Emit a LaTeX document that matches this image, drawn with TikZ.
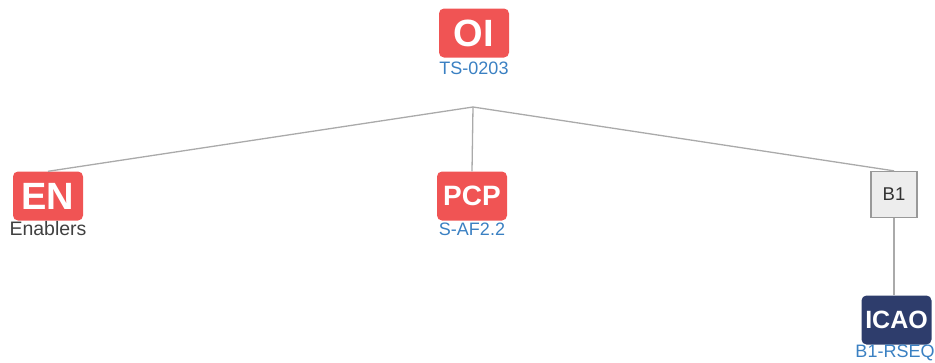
\documentclass[tikz,border=0pt]{standalone}
\usepackage{fontspec}
\setmainfont{Liberation Sans}
\definecolor{boxred}{HTML}{F05454}
\definecolor{boxnavy}{HTML}{2E3D6C}
\definecolor{labblue}{HTML}{3A80C2}
\definecolor{linegray}{HTML}{AAAAAA}

\begin{document}
\begin{tikzpicture}[x=1pt,y=1pt,
   tag/.style={rounded corners=5pt,minimum width=70pt,minimum height=49pt,inner sep=0pt,text=white,font=\bfseries},
   redtag/.style={tag,fill=boxred},
   navytag/.style={tag,fill=boxnavy},
   sub/.style={anchor=base,inner sep=0pt,font=\fontsize{18}{18}\selectfont,text=labblue},
   link/.style={draw=linegray,line width=1.3pt}]
   \useasboundingbox (0,0) rectangle (935,-362);

   % top node
   \node[redtag,font=\bfseries\fontsize{38}{38}\selectfont] (oi) at (474,-33) {OI};
   \node[sub] (oilab) at (474,-74.5) {TS-0203};
   \coordinate (fork) at (473,-107);

   % second row
   \node[redtag,font=\bfseries\fontsize{38}{38}\selectfont] (en) at (48,-196) {EN};
   \node[sub,text=black!75,font=\fontsize{19.5}{19.5}\selectfont] (enlab) at (48,-235.5) {Enablers};
   \node[redtag,font=\bfseries\fontsize{28}{28}\selectfont] (pcp) at (472,-196) {PCP};
   \node[sub] (pcplab) at (472,-235) {S-AF2.2};
   \node[draw=black!40,fill=black!7,line width=1.3pt,minimum size=46pt,inner sep=0pt,
         font=\fontsize{18.5}{18.5}\selectfont,text=black!80] (b1) at (894,-194.5) {B1};

   % leaf
   \node[navytag,font=\bfseries\fontsize{25}{25}\selectfont] (icao) at (896.5,-320) {ICAO};
   \node[sub] (icaolab) at (895,-357.5) {B1-RSEQ};

   \draw[link] (fork) -- (en.north);
   \draw[link] (fork) -- (pcp.north);
   \draw[link] (fork) -- (b1.north);
   \draw[link] (b1.south) -- (b1.south |- icao.north);
\end{tikzpicture}
\end{document}
